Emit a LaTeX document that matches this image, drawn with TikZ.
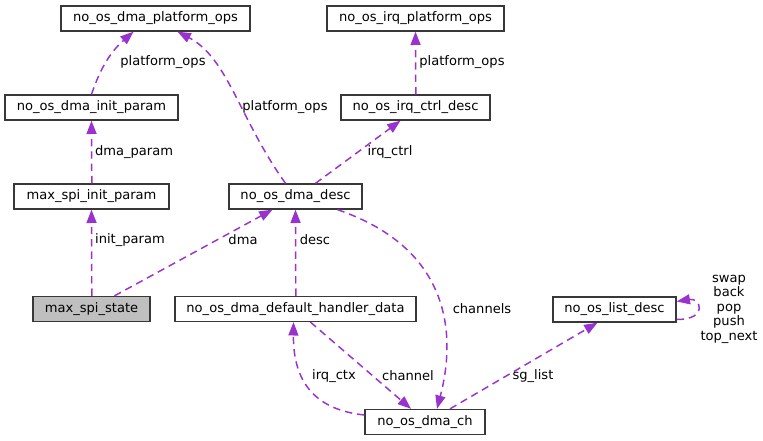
\documentclass[tikz,border=0pt]{standalone}
\usepackage{fontspec}
\setmainfont{DejaVu Sans}
\usetikzlibrary{arrows.meta,calc}
\definecolor{DoxEdge}{RGB}{154,50,205}
\definecolor{DoxLine}{RGB}{56,56,56}
\definecolor{DoxSel}{RGB}{191,191,191}
\tikzset{
  dox box/.style={
    draw=DoxLine,
    fill=white,
    line width=1pt,
    align=center,
    font=\fontsize{9.8}{11.8}\selectfont,
    inner sep=0pt,
    minimum height=18.75pt
  },
  dox self/.style={dox box, fill=DoxSel},
  dox ref/.style={-{Triangle[length=10pt,width=7.5pt]}, DoxEdge, line width=1.1pt,
    dash pattern=on 5.5pt off 3.75pt},
  dox label/.style={font=\fontsize{9.8}{10.9}\selectfont, align=center, inner sep=0pt}
}
\begin{document}
\begin{tikzpicture}[x=0.75pt,y=-0.75pt]
\useasboundingbox (0,0) rectangle (763,441);
% classes
\node[dox box, minimum width=141.75pt] (dplat) at (155.5,18.5) {no\_os\_dma\_platform\_ops};
\node[dox box, minimum width=132.75pt] (iplat) at (415.5,18.5) {no\_os\_irq\_platform\_ops};
\node[dox box, minimum width=129.75pt] (dinit) at (91.5,107.5) {no\_os\_dma\_init\_param};
\node[dox box, minimum width=111.75pt] (ictrl) at (415.5,107.5) {no\_os\_irq\_ctrl\_desc};
\node[dox box, minimum width=116.25pt] (sinit) at (91.5,196.5) {max\_spi\_init\_param};
\node[dox box, minimum width=99.75pt] (ddesc) at (295.5,196.5) {no\_os\_dma\_desc};
\node[dox self, minimum width=87.75pt] (state) at (91.5,309) {max\_spi\_state};
\node[dox box, minimum width=180.75pt] (hdata) at (295.5,309) {no\_os\_dma\_default\_handler\_data};
\node[dox box, minimum width=92.25pt] (ldesc) at (614.5,309.5) {no\_os\_list\_desc};
\node[dox box, minimum width=90pt] (dch) at (425,422) {no\_os\_dma\_ch};
% members
\draw[dox ref] (dinit.north) to[bend left=15] ($(dplat.south)+(-22,0)$);
\draw[dox ref] ($(ddesc.north)+(-10,0)$) .. controls (240,120) and (228,58) .. ($(dplat.south)+(22,0)$);
\draw[dox ref] ($(ictrl.north)+(0.3,0)$) -- (iplat.south);
\draw[dox ref] ($(ddesc.north)+(20,0)$) -- ($(ictrl.south)+(-15,0)$);
\draw[dox ref] ($(sinit.north)+(0.3,0)$) -- (dinit.south);
\draw[dox ref] ($(state.north)+(0.3,0)$) -- (sinit.south);
\draw[dox ref] ($(state.north)+(23,0)$) -- ($(ddesc.south)+(-23,0)$);
\draw[dox ref] ($(hdata.north)+(0.3,0)$) -- (ddesc.south);
\draw[dox ref] ($(ddesc.south)+(42,0)$) .. controls (455,250) and (455,340) .. ($(dch.north)+(12,0)$);
\draw[dox ref] ($(hdata.south)+(15,0)$) -- ($(dch.north)+(-14,0)$);
\draw[dox ref] ($(dch.west)+(0,-7)$) .. controls (318,410) and (293,385) .. ($(hdata.south)+(-2,0)$);
\draw[dox ref] ($(dch.north)+(25,0)$) -- ($(ldesc.south)+(-17,0)$);
\draw[dox ref] ($(ldesc.east)+(0,10)$) .. controls +(32,0) and +(24,-4) .. ($(ldesc.east)+(0,-8)$);
% member names
\node[dox label] (l1) at (163,62) {platform\_ops};
\node[dox label] (l2) at (285,107) {platform\_ops};
\node[dox label] (l3) at (462,62) {platform\_ops};
\node[dox label] (l4) at (390,152) {irq\_ctrl};
\node[dox label] (l5) at (134,152) {dma\_param};
\node[dox label] (l6) at (130,240) {init\_param};
\node[dox label] (l7) at (243,240) {dma};
\node[dox label] (l8) at (315,240) {desc};
\node[dox label] (l9) at (482,309) {channels};
\node[dox label] (l10) at (408,376) {channel};
\node[dox label] (l11) at (334,376) {irq\_ctx};
\node[dox label] (l12) at (533,376) {sg\_list};
\node[dox label] (l13) at (729,309) {swap\\back\\pop\\push\\top\_next};
\end{tikzpicture}
\end{document}
